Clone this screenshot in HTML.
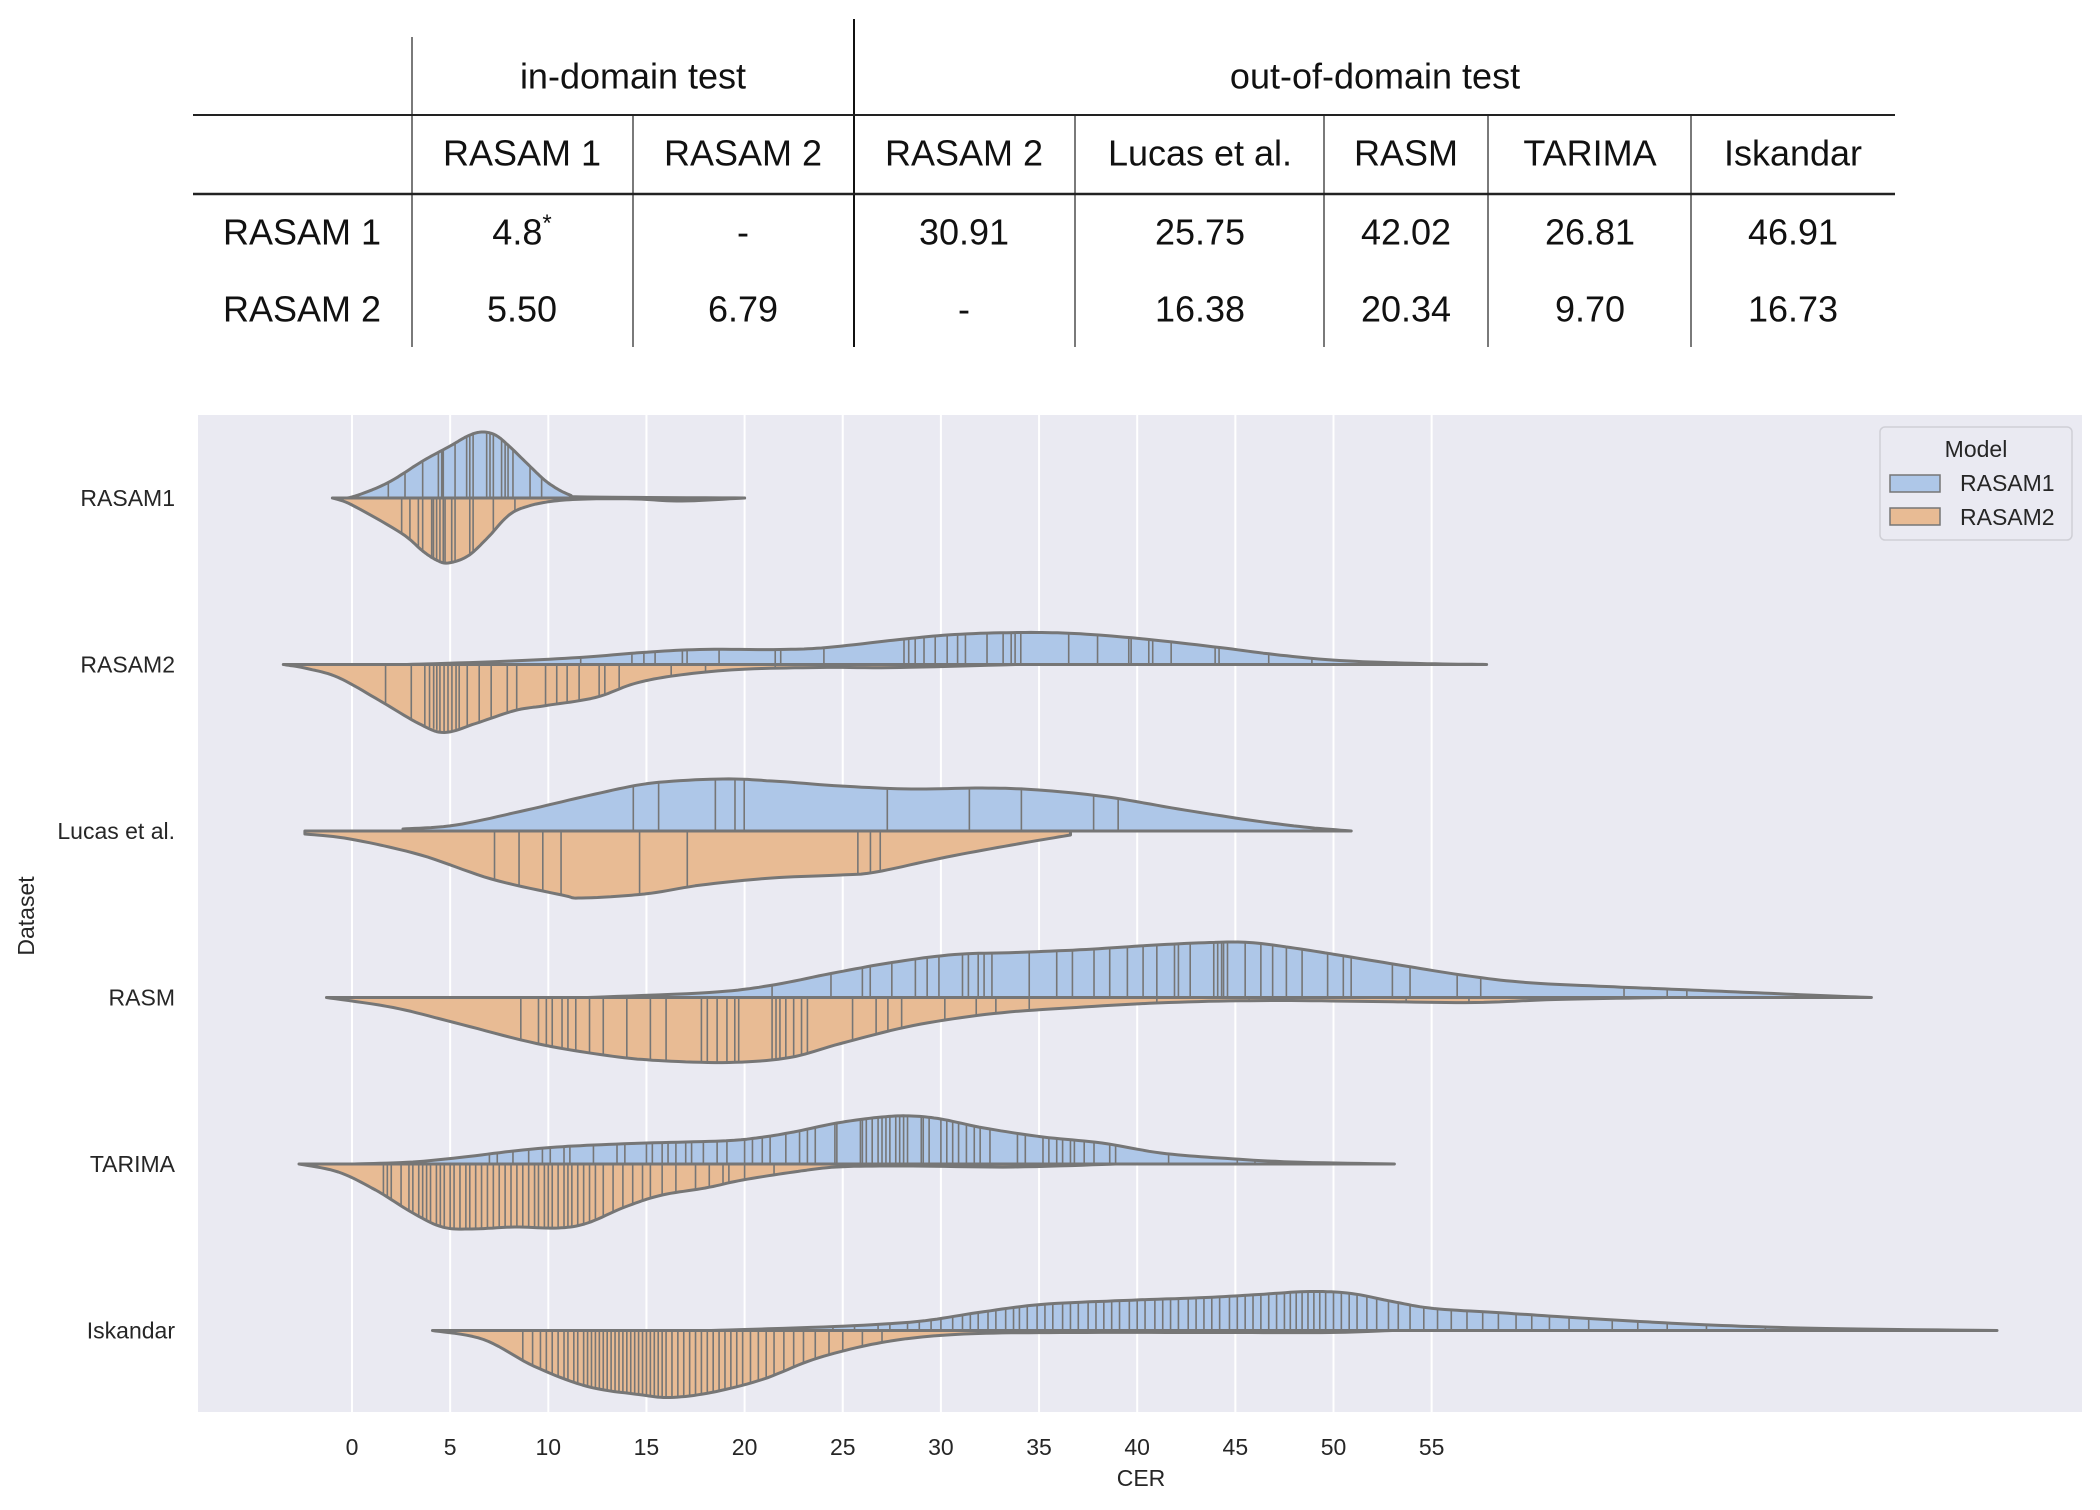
<!DOCTYPE html>
<html><head><meta charset="utf-8">
<style>
html,body{margin:0;padding:0;background:#fff;}
svg{display:block;}
.tb{font-family:"Liberation Sans",sans-serif;font-size:36px;fill:#111;text-anchor:middle;dominant-baseline:middle;}
.ax{font-family:"Liberation Sans",sans-serif;font-size:23px;fill:#262626;}
</style></head>
<body>
<svg id="fig" width="2100" height="1510" viewBox="0 0 2100 1510" xmlns="http://www.w3.org/2000/svg">
<g id="table">
  <line x1="412" y1="37" x2="412" y2="347" stroke="#333" stroke-width="1.3"/>
  <line x1="854" y1="19" x2="854" y2="347" stroke="#111" stroke-width="2"/>
  <line x1="633" y1="115" x2="633" y2="347" stroke="#333" stroke-width="1.3"/>
  <line x1="1075" y1="115" x2="1075" y2="347" stroke="#333" stroke-width="1.3"/>
  <line x1="1324" y1="115" x2="1324" y2="347" stroke="#333" stroke-width="1.3"/>
  <line x1="1488" y1="115" x2="1488" y2="347" stroke="#333" stroke-width="1.3"/>
  <line x1="1691" y1="115" x2="1691" y2="347" stroke="#333" stroke-width="1.3"/>
  <line x1="193" y1="115" x2="1895" y2="115" stroke="#222" stroke-width="2"/>
  <line x1="193" y1="194" x2="1895" y2="194" stroke="#222" stroke-width="2.5"/>
  <text class="tb" x="633" y="79">in-domain test</text>
  <text class="tb" x="1375" y="79">out-of-domain test</text>
  <text class="tb" x="522" y="156">RASAM 1</text>
  <text class="tb" x="743" y="156">RASAM 2</text>
  <text class="tb" x="964" y="156">RASAM 2</text>
  <text class="tb" x="1200" y="156">Lucas et al.</text>
  <text class="tb" x="1406" y="156">RASM</text>
  <text class="tb" x="1590" y="156">TARIMA</text>
  <text class="tb" x="1793" y="156">Iskandar</text>
  <text class="tb" x="302" y="235">RASAM 1</text>
  <text class="tb" x="522" y="235">4.8<tspan dy="-10" font-size="24">*</tspan></text>
  <text class="tb" x="743" y="235">-</text>
  <text class="tb" x="964" y="235">30.91</text>
  <text class="tb" x="1200" y="235">25.75</text>
  <text class="tb" x="1406" y="235">42.02</text>
  <text class="tb" x="1590" y="235">26.81</text>
  <text class="tb" x="1793" y="235">46.91</text>
  <text class="tb" x="302" y="312">RASAM 2</text>
  <text class="tb" x="522" y="312">5.50</text>
  <text class="tb" x="743" y="312">6.79</text>
  <text class="tb" x="964" y="312">-</text>
  <text class="tb" x="1200" y="312">16.38</text>
  <text class="tb" x="1406" y="312">20.34</text>
  <text class="tb" x="1590" y="312">9.70</text>
  <text class="tb" x="1793" y="312">16.73</text>
</g>
<rect x="198" y="415" width="1884" height="997" fill="#eaeaf2"/>
<g id="grid"></g>
<g id="violins"></g>
<g id="axes"></g>
<g id="legend">
  <rect x="1880" y="427" width="192" height="113" rx="5" fill="#eaeaf2" stroke="#cfcfd6" stroke-width="1.5"/>
  <text class="ax" x="1976" y="457" text-anchor="middle" font-size="24">Model</text>
  <rect x="1890" y="475" width="50" height="17" fill="#aec7e8" stroke="#767676" stroke-width="1.5"/>
  <text class="ax" x="1960" y="491" font-size="23">RASAM1</text>
  <rect x="1890" y="508" width="50" height="17" fill="#e8bb94" stroke="#767676" stroke-width="1.5"/>
  <text class="ax" x="1960" y="525" font-size="23">RASAM2</text>
</g>
</svg>
<script>
const categories = ["RASAM1","RASAM2","Lucas et al.","RASM","TARIMA","Iskandar"];
const xTicks = [0,5,10,15,20,25,30,35,40,45,50,55];
// density profiles: [CER, half-width]
const densR1 = [
 [[-0.8,0],[0,1],[1.8,15],[3.6,37],[5,52],[5.9,62],[6.6,66],[7.3,63],[8,52],[9,33],[10,15],[11.1,3],[12,1],[20,0]],
 [[2.8,0],[7.5,3],[11.6,7],[14.8,12],[17.7,15],[21.8,15],[24.2,17],[27.9,25],[30.7,30],[34,32],[36.8,31],[40.1,26],[44.2,17],[47,10],[50.3,4],[54.4,1],[57.8,0]],
 [[2.6,2],[5.3,6],[8.9,21],[12.4,37],[15.3,48],[18.9,52],[21.4,50],[24.9,45],[28.5,42],[32.1,43],[35,41],[38.5,34],[42.1,22],[45.7,11],[48.5,4],[50.9,0]],
 [[12,0],[18.2,5],[21.3,12],[24.4,24],[27.5,35],[30.7,43],[33.8,45],[37.4,48],[40.5,52],[43.7,55],[45.7,55],[47.8,50],[50.4,42],[53.5,32],[56.7,22],[59.8,15],[63.9,11],[67.6,8],[71.2,5],[74.8,2],[77.4,0]],
 [[0.1,0],[3.1,2],[5.7,7],[8.7,14],[11.3,18],[15,21],[18.8,23],[20.6,26],[22.5,32],[24.7,41],[27,47],[28.5,48],[30,45],[32.2,36],[35.2,27],[38.2,21],[41.2,11],[44.2,6],[47.9,2],[53.1,0]],
 [[18.3,0],[24.6,4],[28.8,9],[31.9,18],[35.1,26],[39.3,30],[43.5,33],[46.2,36],[48.8,39],[50.9,37],[53,29],[55.1,22],[58.3,18],[61.4,14],[65.6,9],[69.8,5],[75.1,2],[83.8,0]]
];
const densR2 = [
 [[-1,0],[0,7],[2.5,35],[3.6,53],[4.3,62],[4.9,65],[5.9,58],[6.9,40],[8,17],[9,8],[10.3,3],[12,1],[14.5,1],[16.8,3],[20,0]],
 [[-3.5,0],[-2.3,4],[-0.7,13],[1.4,36],[3.4,59],[4.7,68],[6.3,59],[8.3,46],[9.9,41],[12.4,33],[14.4,19],[16.5,11],[19.7,5],[23.8,3],[27.9,3],[33.8,0]],
 [[-2.4,3],[-0.1,8],[3.5,24],[7.1,48],[10.7,64],[11.7,67],[14.9,63],[17.8,54],[21.4,47],[24.9,44],[26.7,41],[30.3,26],[33.9,13],[36.6,4]],
 [[-1.3,0],[2.1,10],[5.2,25],[9.4,46],[13,58],[15.6,63],[19.2,65],[22.3,60],[24.9,46],[28.6,28],[32.7,16],[36.9,10],[41.6,5],[46.8,3],[52,4],[57.2,5],[61.3,2],[67,0]],
 [[-2.7,0],[-0.7,8],[1.2,26],[3.1,49],[4.6,63],[6.1,65],[8.3,63],[10.5,64],[12,59],[13.9,43],[15.8,31],[18,24],[19.9,16],[22.5,8],[24.7,3],[28.1,2],[33.7,3],[38.9,0]],
 [[4.1,0],[6.7,9],[9.3,36],[12,56],[14.6,64],[16.2,67],[18.3,62],[20.9,49],[23.5,29],[26.2,15],[28.8,7],[31.9,3],[36.7,2],[44.6,2],[49.8,2],[53,0]]
];
// observation sticks (CER values)
const obsR1 = [
 [1.85,2.7,3.6,4.4,4.57,4.65,5.25,5.84,6.0,6.17,6.86,7.03,7.2,7.62,7.8,7.95,8.2,9.07,9.66],
 [11.65,14.26,14.87,15.44,16.83,17.07,18.7,21.56,21.84,24.04,28.12,28.36,28.69,29.14,29.71,30.32,30.85,31.25,32.35,33.17,33.58,33.78,34.07,36.51,37.98,39.57,39.69,40.59,40.79,41.73,43.97,44.17,46.7,48.9],
 [14.33,15.62,18.51,19.51,19.98,27.27,31.45,34.1,37.78,39.03],
 [21.4,24.4,26.0,26.4,27.5,28.7,29.3,29.9,31.1,31.4,31.9,32.2,32.6,34.5,35.9,36.7,37.8,38.6,39.5,40.3,41.0,41.9,42.1,42.7,43.9,44.1,44.3,44.4,44.6,45.5,46.3,46.9,47.6,48.4,49.7,50.5,50.9,53.0,53.9,56.3,57.5,64.8,67.0,68.0],
 [7.0,7.4,8.2,9.0,9.7,10.1,10.8,11.1,12.3,13.5,13.9,15.0,15.3,15.8,16.1,16.5,17.0,17.3,17.9,18.6,19.1,20.0,20.4,20.9,21.3,22.1,22.8,23.2,23.6,24.6,24.7,25.9,26.0,26.2,26.5,26.8,27.0,27.2,27.4,27.7,27.9,28.1,28.3,29.0,29.1,29.4,30.0,30.3,30.6,30.9,31.3,31.7,32.0,32.5,33.9,34.3,35.2,35.5,35.9,36.2,36.6,36.8,37.3,37.8,38.6,38.9,41.6,45.1,46.0],
 [24.5,25.6,26.8,27.4,28.3,28.9,29.5,30.0,30.6,31.1,31.5,31.9,32.4,32.8,33.3,33.7,34.0,34.4,34.9,35.3,35.7,36.2,36.6,37.0,37.5,37.9,38.3,38.7,39.1,39.6,40.0,40.4,40.9,41.3,41.7,42.1,42.6,43.0,43.4,43.8,44.2,44.7,45.1,45.5,45.9,46.3,46.7,47.1,47.5,47.8,48.1,48.4,48.7,49.0,49.3,49.6,50.0,50.4,50.8,51.2,51.7,52.2,52.8,53.3,53.9,54.6,55.3,56.0,56.8,57.6,58.4,59.3,60.1,61.0,62.0,63.0,64.2,65.5,67.0,69.0,72.0]
];
const obsR2 = [
 [2.53,2.95,3.38,3.6,4.06,4.15,4.31,4.48,4.65,4.74,5.08,5.25,6.0,6.17,7.2,8.3,16.7],
 [1.71,3.02,3.71,3.95,4.16,4.32,4.48,4.69,4.89,5.09,5.3,5.46,5.87,6.48,7.09,7.91,8.39,9.86,10.43,10.96,11.57,12.59,12.88,13.61,16.26,18.01,21.56],
 [7.26,8.51,9.72,10.65,14.65,17.08,25.77,26.41,26.91],
 [8.6,9.5,9.9,10.2,10.7,11.0,11.4,12.1,12.8,14.0,15.2,16.0,17.8,18.1,18.6,19.1,19.5,19.7,21.4,21.6,21.8,22.1,22.5,22.9,23.2,25.5,26.7,27.3,28.0,30.2,31.8,32.8,34.5,41.0,45.7,53.7,56.9],
 [1.6,1.8,2.0,2.5,2.9,3.1,3.4,3.6,3.8,4.0,4.3,4.5,4.7,5.0,5.2,5.5,5.8,6.0,6.3,6.6,6.9,7.2,7.5,7.8,8.1,8.4,8.7,9.0,9.3,9.5,9.8,10.0,10.2,10.5,10.8,11.0,11.2,11.5,11.8,12.1,12.4,12.8,13.3,13.8,14.3,14.8,15.2,15.8,16.5,17.5,18.2,18.9,19.2,20.0,21.5],
 [8.7,9.2,9.6,9.9,10.2,10.5,10.8,11.0,11.3,11.5,11.8,12.0,12.2,12.4,12.6,12.8,13.0,13.2,13.4,13.6,13.8,14.0,14.2,14.4,14.6,14.8,15.0,15.2,15.4,15.6,15.8,16.0,16.3,16.6,16.9,17.2,17.5,17.8,18.1,18.4,18.7,19.0,19.3,19.6,19.9,20.3,20.7,21.1,21.5,22.0,22.5,23.0,23.6,24.3,25.0,26.0,27.0]
];

const NS="http://www.w3.org/2000/svg";
const xS = v => 352 + v*19.63;
const yS = i => 498 + i*166.5;
const hS = d => d*1.0;
function mk(tag, attrs, parent){const e=document.createElementNS(NS,tag);for(const k in attrs)e.setAttribute(k,attrs[k]);parent.appendChild(e);return e;}
function interp(prof,v){if(v<=prof[0][0])return prof[0][1];for(let i=1;i<prof.length;i++){if(v<=prof[i][0]){const a=prof[i-1],b=prof[i];return a[1]+(b[1]-a[1])*(v-a[0])/(b[0]-a[0]);}}return prof[prof.length-1][1];}
function smoothPts(prof){const out=[];const p=prof;for(let i=0;i<p.length-1;i++){const p0=p[Math.max(0,i-1)],p1=p[i],p2=p[i+1],p3=p[Math.min(p.length-1,i+2)];for(let t=0;t<1;t+=0.1){const t2=t*t,t3=t2*t;const f=(a,b,c,d)=>0.5*((2*b)+(-a+c)*t+(2*a-5*b+4*c-d)*t2+(-a+3*b-3*c+d)*t3);out.push([f(p0[0],p1[0],p2[0],p3[0]),Math.max(0,f(p0[1],p1[1],p2[1],p3[1]))]);}}out.push(p[p.length-1]);return out;}

const grid=document.getElementById('grid');
const axes=document.getElementById('axes');
xTicks.forEach(t=>{
  const l=mk('line',{x1:xS(t),x2:xS(t),y1:415,y2:1412,stroke:'#ffffff','stroke-width':2},grid);
  
  
  const tx=mk('text',{x:xS(t),y:1455,'text-anchor':'middle',class:'ax'},axes);
  
  
  tx.textContent=t;
});
const xt=mk('text',{x:1141,y:1486,'text-anchor':'middle',class:'ax','font-size':'24'},axes);


xt.textContent='CER';
const yt=mk('text',{x:34,y:916,'text-anchor':'middle',class:'ax','font-size':'24',transform:'rotate(-90 34 916)'},axes);


yt.textContent='Dataset';
categories.forEach((c,i)=>{
  const t=mk('text',{x:175,y:yS(i)+8,'text-anchor':'end',class:'ax'},axes);
  
  
  t.textContent=c;
});

const vg=document.getElementById('violins');
function half(i,prof,obs,sign,fill,name){
  const cy=yS(i);
  const g=mk('g',{},vg);
  
  
  const pts=smoothPts(prof);
  let d='M'+xS(pts[0][0])+','+cy;
  pts.forEach(p=>{d+=' L'+xS(p[0]).toFixed(1)+','+(cy+sign*hS(p[1])).toFixed(1);});
  d+=' L'+xS(pts[pts.length-1][0])+','+cy+' Z';
  const body=mk('path',{d:d,fill:fill,stroke:'none'},g);
  
  
  obs.forEach(v=>{
    const h=hS(interp(prof,v));
    const s=mk('line',{x1:xS(v),x2:xS(v),y1:cy,y2:cy+sign*h,stroke:'#767676','stroke-width':1.6},g);
    
    
  });
  const o=mk('path',{d:d,fill:'none',stroke:'#767676','stroke-width':3,'stroke-linejoin':'round'},g);
  
  
}
categories.forEach((c,i)=>{
  half(i,densR1[i],obsR1[i],-1,'#aec7e8','violin-rasam1-'+i);
  half(i,densR2[i],obsR2[i],1,'#e8bb94','violin-rasam2-'+i);
});
</script>
</body></html>
